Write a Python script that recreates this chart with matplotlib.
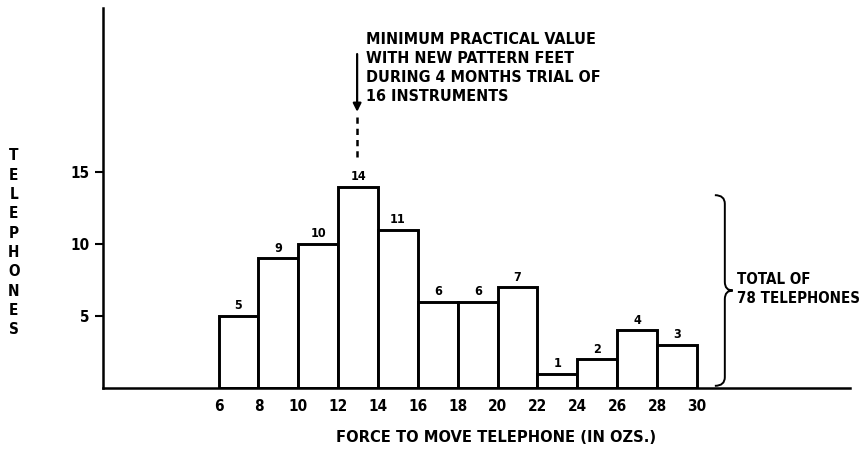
import matplotlib.pyplot as plt
from matplotlib.path import Path
from matplotlib.patches import PathPatch

# Bin edges (ozs) and number of telephones in each bin
bin_left = [6, 8, 10, 12, 14, 16, 18, 20, 22, 24, 26, 28]
counts = [5, 9, 10, 14, 11, 6, 6, 7, 1, 2, 4, 3]
x_ticks = [6, 8, 10, 12, 14, 16, 18, 20, 22, 24, 26, 28, 30]
y_ticks = [5, 10, 15]

plt.rcParams['font.family'] = ['DejaVu Sans']
plt.rcParams['font.stretch'] = 'condensed'
plt.rcParams['font.weight'] = 'bold'
plt.rcParams['axes.labelweight'] = 'bold'

fig = plt.figure(figsize=(8.68, 4.65), dpi=100)
ax = fig.add_axes([0.1187, 0.1656, 0.861, 0.817])

ax.bar(bin_left, counts, width=2, align='edge', color='white',
       edgecolor='black', linewidth=2.1)
for x, c in zip(bin_left, counts):
    ax.text(x + 1, c + 0.25, str(c), ha='center', va='bottom', fontsize=9)

ax.set_xlim(0.2, 37.7)
ax.set_ylim(0, 26.4)
ax.set_xticks(x_ticks)
ax.set_yticks(y_ticks)
ax.tick_params(axis='x', length=0, labelsize=11, pad=8)
ax.tick_params(axis='y', length=6, width=1.5, labelsize=11)
for s in ['top', 'right']:
    ax.spines[s].set_visible(False)
for s in ['left', 'bottom']:
    ax.spines[s].set_linewidth(1.8)

ax.set_xlabel('FORCE TO MOVE TELEPHONE (IN OZS.)', fontsize=11.8)
ax.xaxis.set_label_coords(0.526, -0.11)

# stacked vertical y label
fig.text(0.016, 0.478, '\n'.join('TELEPHONES'), ha='center', va='center',
         fontsize=11, linespacing=1.36)

# annotation arrow
ax.annotate('', xy=(12.95, 19.0), xytext=(12.95, 23.4),
            arrowprops=dict(arrowstyle='-|>', color='black', lw=1.6,
                            mutation_scale=12))
ax.plot([12.95, 12.95], [18.8, 16.0], color='black', lw=1.8, ls=(0, (2.5, 2)))
ax.text(13.4, 24.75, 'MINIMUM PRACTICAL VALUE\nWITH NEW PATTERN FEET\n'
        'DURING 4 MONTHS TRIAL OF\n16 INSTRUMENTS', ha='left', va='top',
        fontsize=11.5, linespacing=1.35)

# brace
bx, y0, y1 = 30.9, 0.15, 13.4
ym = (y0 + y1) / 2
verts = [(bx, y1), (bx + 0.5, y1), (bx + 0.5, y1 - 0.6), (bx + 0.5, ym + 0.6),
         (bx + 0.5, ym), (bx + 0.9, ym), (bx + 0.5, ym),
         (bx + 0.5, ym - 0.6), (bx + 0.5, y0 + 0.6), (bx + 0.5, y0), (bx, y0)]
codes = [Path.MOVETO, Path.CURVE3, Path.CURVE3, Path.LINETO,
         Path.CURVE3, Path.CURVE3, Path.CURVE3, Path.CURVE3,
         Path.LINETO, Path.CURVE3, Path.CURVE3]
ax.add_patch(PathPatch(Path(verts, codes), facecolor='none',
                       edgecolor='black', lw=1.4))
ax.text(32.0, ym + 0.1, 'TOTAL OF\n78 TELEPHONES', ha='left', va='center',
        fontsize=10.8, linespacing=1.35)

fig.savefig('out.png', dpi=100)
